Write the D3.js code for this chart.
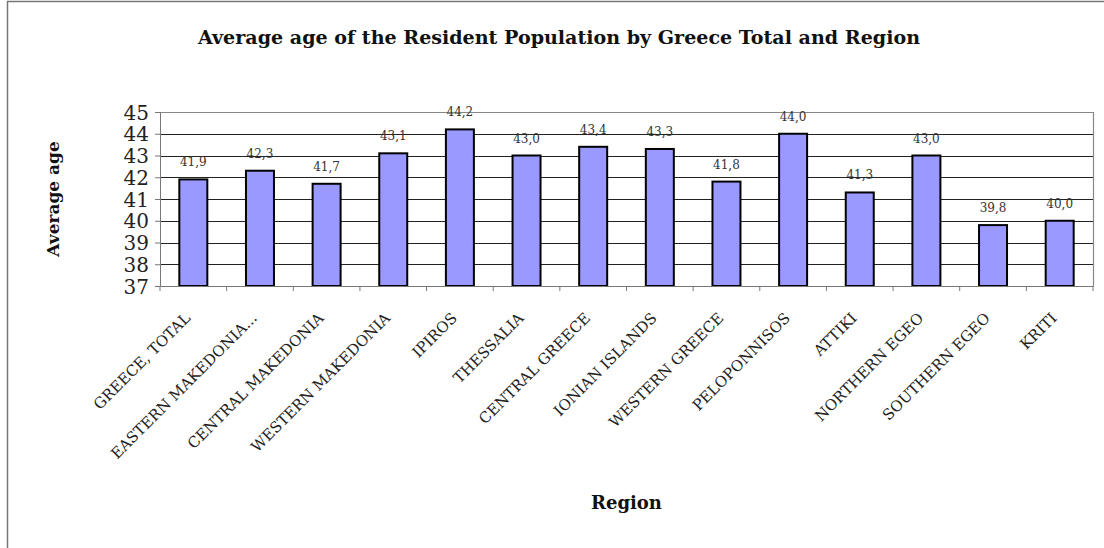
<!DOCTYPE html>
<html><head><meta charset="utf-8">
<script src="https://cdn.jsdelivr.net/npm/d3@7"></script>
<style>body{margin:0;background:#fff}svg{display:block}</style>
</head><body>
<svg id="c" width="1104" height="548"></svg>
<script>
const categories = ["GREECE, TOTAL","EASTERN MAKEDONIA...","CENTRAL MAKEDONIA","WESTERN MAKEDONIA","IPIROS","THESSALIA","CENTRAL GREECE","IONIAN ISLANDS","WESTERN GREECE","PELOPONNISOS","ATTIKI","NORTHERN EGEO","SOUTHERN EGEO","KRITI"];
const values = [41.9,42.3,41.7,43.1,44.2,43.0,43.4,43.3,41.8,44.0,41.3,43.0,39.8,40.0];
const yTicks = [37,38,39,40,41,42,43,44,45];
const title = "Average age of the Resident Population by Greece Total and Region";
const yTitle = "Average age";
const xTitle = "Region";

const svg = d3.select("#c");
const serif = "DejaVu Serif, Liberation Serif, serif";
const L=160, R=1093, T=112, B=286;

svg.append("rect").attr("x",7.5).attr("y",1.5).attr("width",1110).attr("height",560)
  .attr("fill","#fff").attr("stroke","#777").attr("stroke-width",1.5);

const x = d3.scaleBand().domain(categories).range([L,R]).paddingInner(0.58).paddingOuter(0.29);
const xb = d3.scaleBand().domain(categories).range([L,R]);
const y = d3.scaleLinear().domain([37,45]).range([B,T]);

// gridlines
svg.append("g").selectAll("line").data(yTicks.filter(t=>t>37 && t<45)).join("line")
  .attr("x1",L).attr("x2",R).attr("y1",d=>Math.round(y(d))+0.5).attr("y2",d=>Math.round(y(d))+0.5)
  .attr("stroke","#222").attr("stroke-width",1);
// plot frame top/right
svg.append("path").attr("d",`M${L},${T+0.5}H${R+0.5}V${B}`).attr("fill","none").attr("stroke","#888").attr("stroke-width",1.2);

// bars
svg.append("g").selectAll("rect").data(values).join("rect")
  .attr("x",(d,i)=>x(categories[i])).attr("width",x.bandwidth())
  .attr("y",d=>y(d)).attr("height",d=>B-y(d))
  .attr("fill","#9999ff").attr("stroke","#000").attr("stroke-width",2);

// y axis
const ya = d3.axisLeft(y).tickValues(yTicks).tickSize(5).tickPadding(6).tickFormat(d3.format("d"));
const yg = svg.append("g").attr("transform",`translate(${L},0)`).call(ya);
yg.attr("font-family",null).attr("font-size",null);
yg.select(".domain").attr("stroke","#777");
yg.selectAll(".tick line").attr("stroke","#777");
yg.selectAll("text").style("font-family",serif).style("font-size","20px").attr("fill","#222").attr("dy","0.36em");

// x axis
const xa = d3.axisBottom(xb).tickSize(0).tickFormat("");
const xg = svg.append("g").attr("transform",`translate(0,${B})`).call(xa);
xg.select(".domain").attr("stroke","#777").attr("stroke-width",1.2);
xg.selectAll(".tick").remove();
svg.append("g").selectAll("line").data(categories.concat(["_end"])).join("line")
  .attr("x1",(d,i)=>L+i*xb.step()).attr("x2",(d,i)=>L+i*xb.step())
  .attr("y1",B).attr("y2",B+5).attr("stroke","#777");

// category labels
svg.append("g").selectAll("text").data(categories).join("text")
  .attr("transform",d=>`translate(${xb(d)+xb.bandwidth()/2-2},${B+33}) rotate(-45)`)
  .attr("text-anchor","end").style("font-family",serif).style("font-size","15px").attr("fill","#222")
  .text(d=>d);

// value labels
svg.append("g").selectAll("text").data(values).join("text")
  .attr("x",(d,i)=>x(categories[i])+x.bandwidth()/2).attr("y",d=>y(d)-13)
  .attr("text-anchor","middle").style("font-family",serif).style("font-size","12px").attr("fill","#333")
  .text(d=>d.toFixed(1).replace(".",","));

// titles
svg.append("text").attr("x",559).attr("y",44).attr("text-anchor","middle")
  .style("font-family",serif).attr("font-weight","bold").style("font-size","19px").attr("fill","#111")
  .attr("textLength",722).attr("lengthAdjust","spacingAndGlyphs").text(title);
svg.append("text").attr("transform",`translate(59,${(T+B)/2}) rotate(-90)`).attr("text-anchor","middle")
  .style("font-family",serif).attr("font-weight","bold").style("font-size","17px").attr("fill","#111").text(yTitle);
svg.append("text").attr("x",(L+R)/2).attr("y",509).attr("text-anchor","middle")
  .style("font-family",serif).attr("font-weight","bold").style("font-size","18px").attr("fill","#111").text(xTitle);
</script>
</body></html>
